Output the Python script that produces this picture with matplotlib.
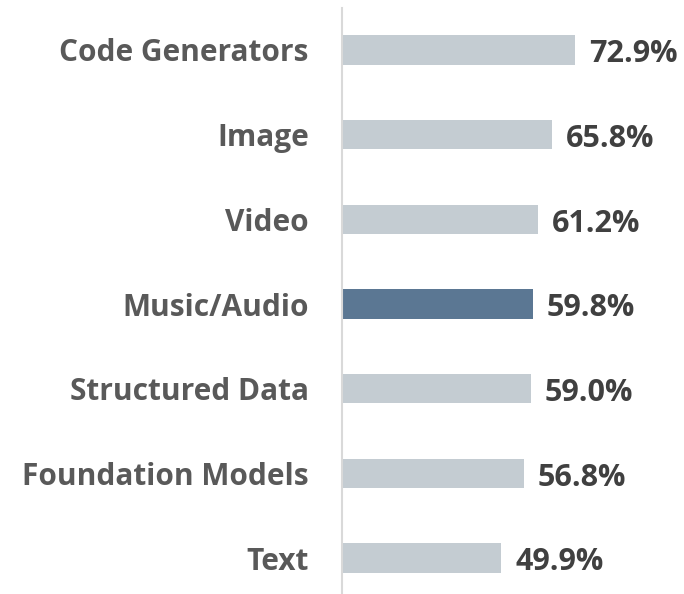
import matplotlib
matplotlib.use("Agg")
import matplotlib.pyplot as plt

categories = ["Code Generators", "Image", "Video", "Music/Audio",
              "Structured Data", "Foundation Models", "Text"]
values = [72.9, 65.8, 61.2, 59.8, 59.0, 56.8, 49.9]
labels = ["72.9%", "65.8%", "61.2%", "59.8%", "59.0%", "56.8%", "49.9%"]
highlight = "Music/Audio"

plt.rcParams['font.family'] = ['Open Sans', 'DejaVu Sans']

fig = plt.figure(figsize=(6.84, 5.94), dpi=100)
ax = fig.add_axes([342/684, 0.0, 319.6/684, (594-8)/594])

n = len(categories)
ypos = [n - 1 - i for i in range(n)]
colors = ["#5B7793" if c == highlight else "#C4CCD2" for c in categories]
ax.barh(ypos, values, height=0.35, color=colors)

ax.set_xlim(0, 100)
ax.set_ylim(-0.425, n - 1 + 0.496)

for spine in ["top", "right", "bottom"]:
    ax.spines[spine].set_visible(False)
ax.spines["left"].set_color("#D9D9D9")
ax.spines["left"].set_linewidth(1.5)
ax.set_xticks([])
ax.set_yticks(ypos)
ax.set_yticklabels(categories, fontsize=21.5, fontweight="bold", color="#595959")
ax.tick_params(axis="y", length=0, pad=24)

for y, v, lab in zip(ypos, values, labels):
    ax.annotate(lab, xy=(v, y), xytext=(10, -3), textcoords="offset points",
                ha="left", va="center", fontsize=22, fontweight="bold",
                color="#404040")

fig.savefig("out.png", dpi=100)
